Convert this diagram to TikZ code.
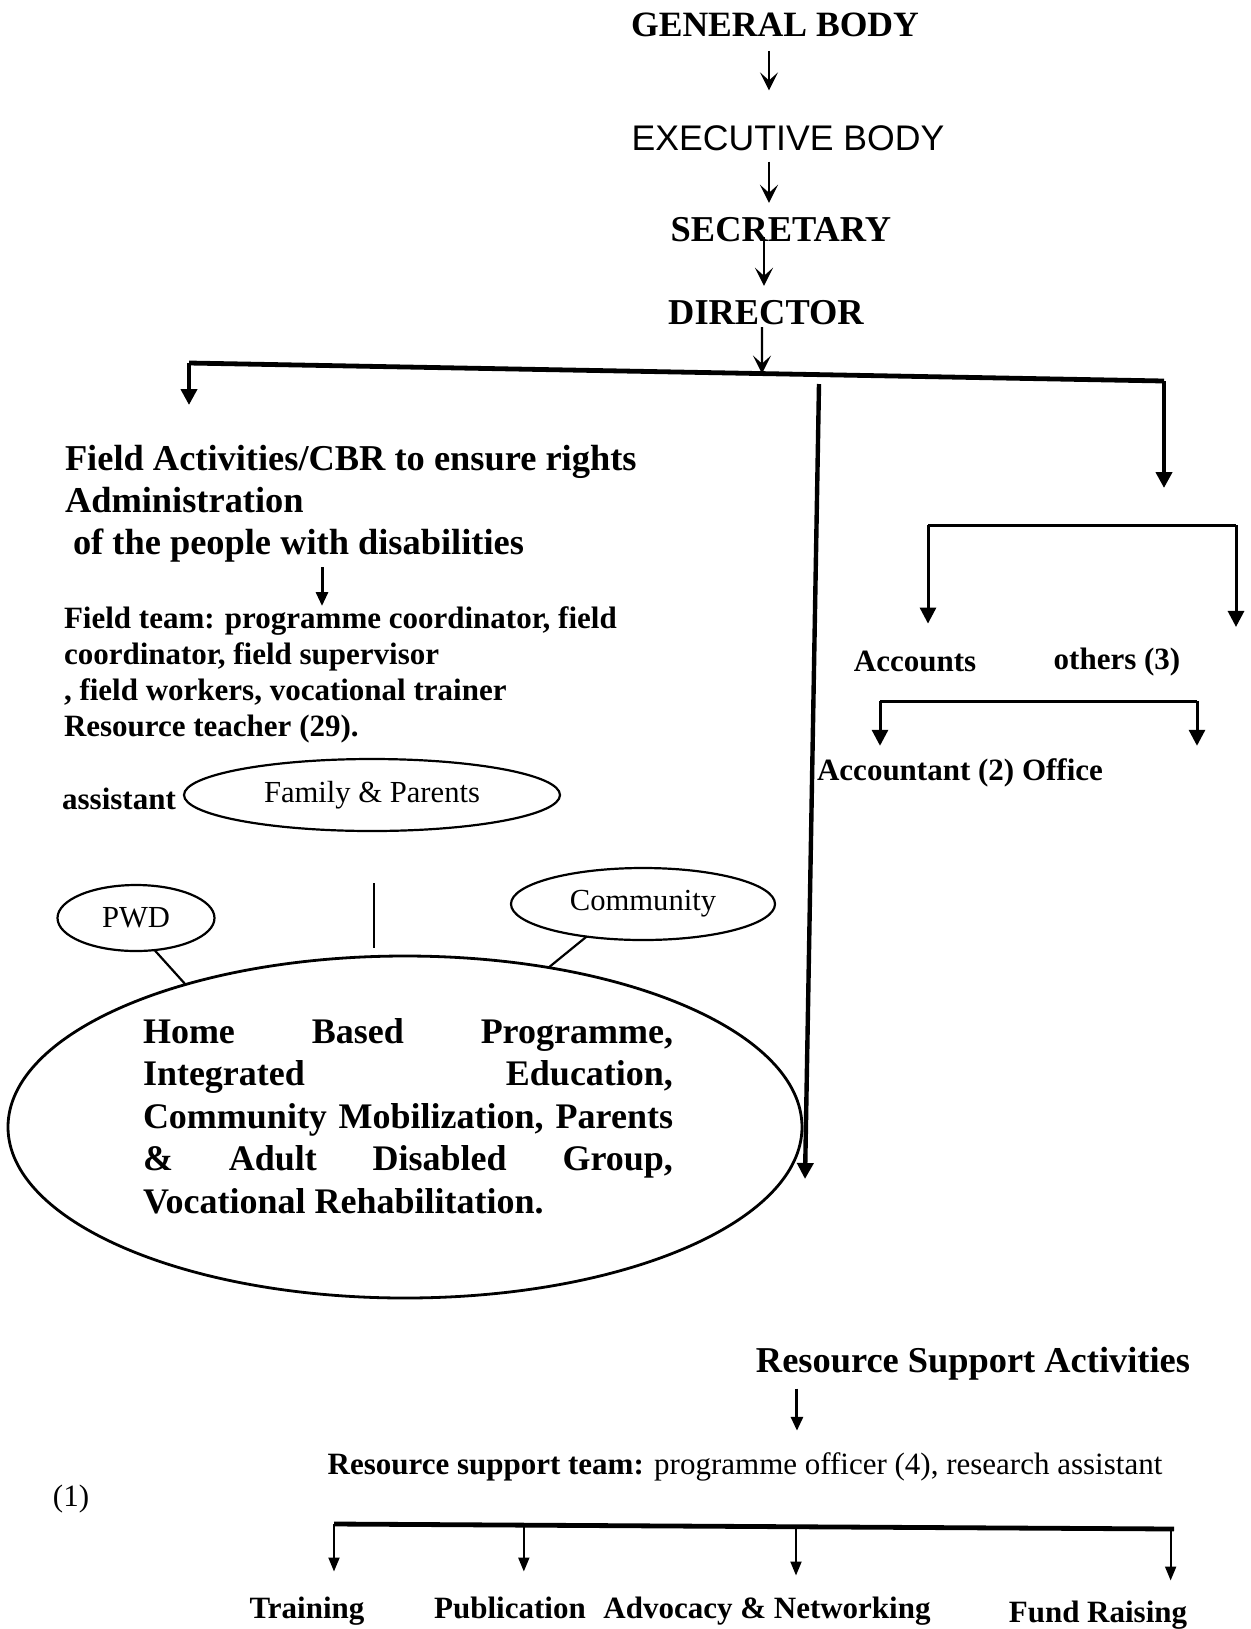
\documentclass[tikz,border=0pt]{standalone}
\usepackage{fontspec}
\setmainfont{Liberation Serif}
\newfontfamily\arialf{Liberation Sans}
\usetikzlibrary{arrows.meta,calc,shapes.geometric}
\newcommand{\jl}[1]{\makebox[265pt][s]{#1}}
\begin{document}
\begin{tikzpicture}[x=0.5pt,y=-0.5pt,
  every node/.style={inner sep=0pt,outer sep=0pt},
  bigtitle/.style={font=\bfseries\fontsize{18.2}{21}\selectfont},
  medbold/.style={font=\bfseries\fontsize{15.5}{18}\selectfont},
  medreg/.style={font=\fontsize{15.5}{18}\selectfont},
  oval/.style={draw,ellipse,line width=1.1pt,font=\fontsize{15.3}{18}\selectfont},
  tarrow/.style={line width=1.2pt,-{Stealth[length=9pt,width=9pt,inset=4pt]}},
  bararrow/.style={line width=2.2pt,-{Triangle[length=8pt,width=8pt]}},
  brarrow/.style={line width=1.5pt,-{Triangle[length=8pt,width=8pt]}},
  thinarrow/.style={line width=1pt,-{Triangle[length=7pt,width=5.5pt]}},
  midarrow/.style={line width=1.5pt,-{Triangle[length=7pt,width=6pt]}},
  barline/.style={line width=2.4pt},
  brline/.style={line width=1.5pt},
  linkline/.style={line width=1.1pt}]
\path[use as bounding box] (0,0) rectangle (1250,1629);

% top chain
\node[font=\bfseries\fontsize{17.8}{20}\selectfont] (gb) at (775,25) {GENERAL BODY};
\node[font=\arialf\fontsize{17.8}{20}\selectfont] (eb) at (788,138) {EXECUTIVE BODY};
\node[bigtitle] (sec) at (781,230) {SECRETARY};
\node[bigtitle] (dir) at (766,313) {DIRECTOR};

\draw[tarrow] ($(gb.south)+(-6,14)$) -- ($(eb.north)+(-19,-35)$);
\draw[tarrow] ($(eb.south)+(-19,11)$) -- ($(sec.north)+(-12,-15)$);
\draw[tarrow] ($(sec.south)+(-17,-5)$) -- ($(dir.north)+(-2,-15)$);

\coordinate (barL) at (189,363);
\coordinate (barR) at (1164,381);
\coordinate (barM) at ($(barL)!0.5877!(barR)$);
\draw[tarrow] ($(dir.south)+(-4,2)$) -- (barM);
\draw[barline] (barL) -- (barR);

% left branch
\node[anchor=north west,align=left,font=\bfseries\fontsize{18.2}{21}\selectfont] (fa) at (65,445)
  {Field Activities/CBR to ensure rights\\Administration\\\hspace*{4pt}of the people with disabilities};
\draw[bararrow] (barL) -- ($(barL |- fa.north)+(0,-40)$);

\node[anchor=north west,align=left,medbold] (ft) at (64,607)
  {Field team: programme coordinator, field\\coordinator, field supervisor\\, field workers, vocational trainer\\Resource teacher (29).};
\draw[midarrow] ($(fa.south west)+(257,5)$) -- ($(ft.north west)+(258,-1)$);

\node[medbold] (asst) at (119,799) {assistant};
\node[oval,minimum width=188pt,minimum height=36pt] (fam) at (372,795) {Family \& Parents};
\node[oval,minimum width=78.5pt,minimum height=33pt] (pwd) at (136,918) {PWD};
\node[oval,minimum width=132pt,minimum height=36pt] (com) at (643,904) {Community};
\node[draw,ellipse,line width=1.4pt,minimum width=397pt,minimum height=171pt] (big) at (405,1127) {};
\node[align=left,font=\bfseries\fontsize{18}{21.3}\selectfont] (bigtxt) at (408,1116)
  {\jl{Home Based Programme,}\\\jl{Integrated Education,}\\\jl{Community Mobilization, Parents}\\\jl{\& Adult Disabled Group,}\\Vocational Rehabilitation.};

\coordinate (famlink) at ($(fam.south)+(2,52)$);
\draw[linkline] (famlink) -- ($(famlink |- big.north)+(0,-8)$);
\draw[linkline] (pwd.-60) -- (big.147);
\draw[linkline] (com.-150) -- (big.48);

% middle long line
\coordinate (midTop) at (819,384);
\draw[bararrow] (midTop) -- ($(big.east)+(3,52)$);

% right branch
\coordinate (rdEnd) at (1164,488);
\draw[bararrow] (barR) -- (rdEnd);

\coordinate (b1L) at (928,525);
\coordinate (b1R) at (1236,525);
\node[medbold] (acc) at (915,661) {Accounts};
\node[medbold] (oth) at (1117,662) {others (3)};
\draw[brline] (b1L) -- (b1R);
\draw[brarrow] (b1L) -- ($(b1L |- acc.north)+(0,-27)$);
\draw[brarrow] (b1R) -- ($(b1R |- oth.north)+(0,-21)$);

\coordinate (b2L) at (880,701);
\coordinate (b2R) at (1197,701);
\node[medbold] (acct) at (960,773) {Accountant (2) Office};
\draw[brline] (b2L) -- (b2R);
\draw[brarrow] (b2L) -- ($(b2L |- acct.north)+(0,-13)$);
\draw[brarrow] (b2R) -- ($(b2R |- acct.north)+(0,-13)$);

% bottom section
\node[bigtitle] (rsa) at (973,1364) {Resource Support Activities};
\node[medreg] (rst) at (745,1467) {\textbf{Resource support team:} programme officer (4), research assistant};
\coordinate (rsaS) at ($(rsa.south west)+(41,8)$);
\draw[midarrow] (rsaS) -- ($(rsaS |- rst.north)+(0,-22)$);

\node[medreg] (one) at (71,1499) {(1)};

\coordinate (bbL) at (334,1524);
\coordinate (bbR) at (1174,1529);
\coordinate (bbP) at ($(bbL)!0.226!(bbR)$);
\coordinate (bbA) at ($(bbL)!0.55!(bbR)$);
\coordinate (bbF) at ($(bbL)!0.996!(bbR)$);
\node[medbold,anchor=base] (tr) at (307,1618) {Training};
\node[medbold,anchor=base] (pub) at (510,1618) {Publication};
\node[medbold,anchor=base] (adv) at (767,1618) {Advocacy \& Networking};
\node[medbold,anchor=base] (fund) at (1098,1622) {Fund Raising};
\draw[barline] (bbL) -- (bbR);
\draw[thinarrow] (bbL) -- ($(bbL |- tr.north)+(0,-25)$);
\draw[thinarrow] (bbP) -- ($(bbP |- pub.north)+(0,-25)$);
\draw[thinarrow] (bbA) -- ($(bbA |- adv.north)+(0,-21)$);
\draw[thinarrow] (bbF) -- ($(bbF |- fund.north)+(0,-20)$);
\end{tikzpicture}
\end{document}
